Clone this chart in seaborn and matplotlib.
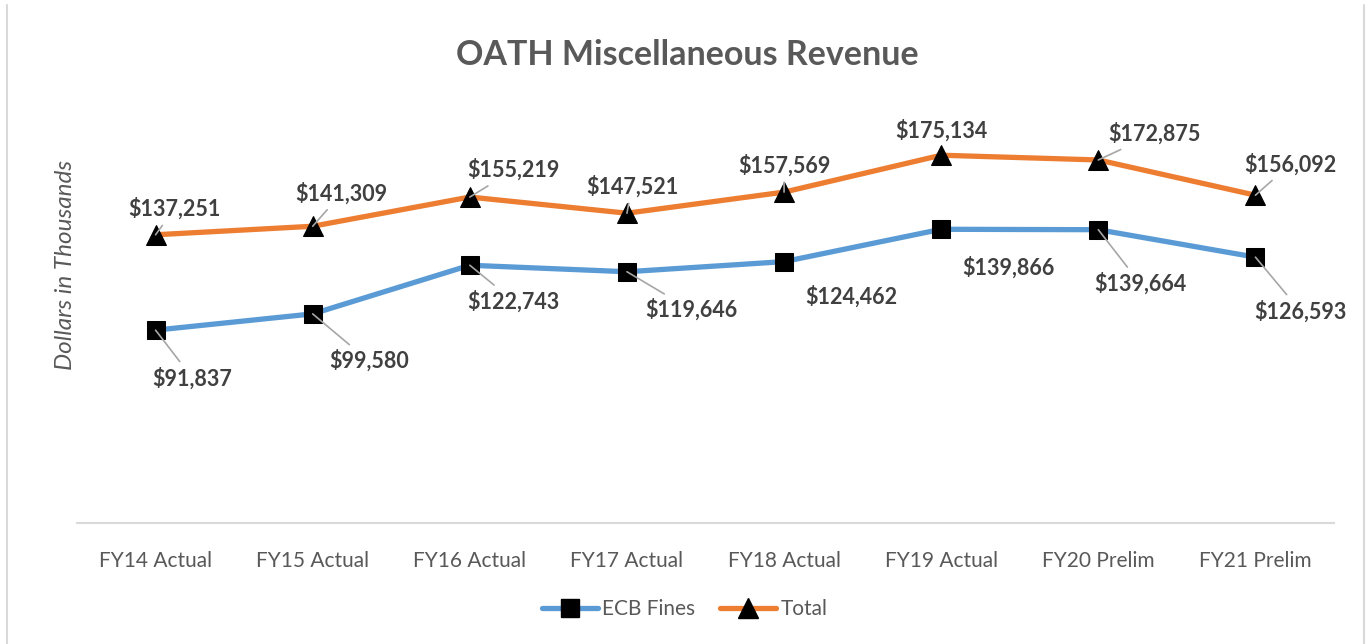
import matplotlib
matplotlib.use("Agg")
import matplotlib.pyplot as plt
from matplotlib.lines import Line2D
import pandas as pd
import seaborn as sns

years = ["FY14 Actual", "FY15 Actual", "FY16 Actual", "FY17 Actual",
         "FY18 Actual", "FY19 Actual", "FY20 Prelim", "FY21 Prelim"]
ecb_fines = [91837, 99580, 122743, 119646, 124462, 139866, 139664, 126593]
total = [137251, 141309, 155219, 147521, 157569, 175134, 172875, 156092]

BLUE = "#5B9BD5"
ORANGE = "#ED7D31"
GREY = "#595959"
LABEL = "#404040"

# label offsets in pixels (dx, dy with y going up) and which ones get a leader line
total_off = [(19, 26), (29, 33), (44, 27), (5, 27), (0, 27), (0, 25), (56, 26), (35, 31)]
total_lead = [True, True, True, True, True, False, True, True]
ecb_off = [(37, -48), (56, -47), (44, -36), (64, -38), (67, -35), (67, -38), (42, -54), (45, -54)]
ecb_lead = [True, True, True, True, False, False, True, True]

sns.set_theme(style="white")
plt.rcParams["font.family"] = ["Lato", "DejaVu Sans"]

df = pd.DataFrame({"year": years, "ecb": ecb_fines, "total": total})

fig = plt.figure(figsize=(13.69, 6.44), dpi=100)
ax = fig.add_axes([77 / 1369, 1 - 523 / 644, 1257 / 1369, 420 / 644])

sns.lineplot(data=df, x="year", y="ecb", ax=ax, color=BLUE, linewidth=3.8, sort=False,
             marker="s", markersize=13, markerfacecolor="black", markeredgecolor="black")
sns.lineplot(data=df, x="year", y="total", ax=ax, color=ORANGE, linewidth=3.8, sort=False,
             marker="^", markersize=15, markerfacecolor="black", markeredgecolor="black")

ax.set_xlim(-0.5, len(years) - 0.5)
ax.set_ylim(0, 200000)
ax.set_yticks([])
ax.set_xlabel("")
ax.set_ylabel("")
for s in ["top", "right", "left"]:
    ax.spines[s].set_visible(False)
ax.spines["bottom"].set_color("#D9D9D9")
ax.spines["bottom"].set_linewidth(1.5)
ax.tick_params(axis="x", length=0, pad=20, labelsize=15, labelcolor=GREY)


def put_labels(values, offsets, leaders):
    for i, v in enumerate(values):
        dx, dy = offsets[i]
        ap = dict(arrowstyle="-", color="#A6A6A6", lw=1.2, shrinkA=2, shrinkB=0) if leaders[i] else None
        ax.annotate(f"${v:,}", xy=(i, v), xytext=(dx * 0.72, dy * 0.72), textcoords="offset points",
                    ha="center", va="center", fontsize=15.5, fontweight="bold", color=LABEL,
                    arrowprops=ap, zorder=5)


put_labels(total, total_off, total_lead)
put_labels(ecb_fines, ecb_off, ecb_lead)

fig.text(687 / 1369, 1 - 55 / 644, "OATH Miscellaneous Revenue", ha="center", va="center",
         fontsize=24.5, fontweight="bold", color=GREY)
fig.text(65 / 1369, 1 - 265 / 644, "Dollars in Thousands", ha="center", va="center",
         rotation=90, fontsize=17.5, style="italic", color=GREY)

handles = [
    Line2D([], [], color=BLUE, lw=3.8, marker="s", markersize=13,
           markerfacecolor="black", markeredgecolor="black"),
    Line2D([], [], color=ORANGE, lw=3.8, marker="^", markersize=15,
           markerfacecolor="black", markeredgecolor="black"),
]
fig.legend(handles, ["ECB Fines", "Total"], loc="center", bbox_to_anchor=(0.5, 1 - 609 / 644),
           ncol=2, frameon=False, fontsize=15, labelcolor=GREY, handlelength=2.7,
           handletextpad=0.2, columnspacing=1.2)

# chart area border (left / right edges)
for x in (7 / 1369, 1364 / 1369):
    fig.add_artist(Line2D([x, x], [0, 1 - 5 / 644], transform=fig.transFigure,
                          color="#D9D9D9", lw=1.5))

fig.savefig("out.png", dpi=100)
